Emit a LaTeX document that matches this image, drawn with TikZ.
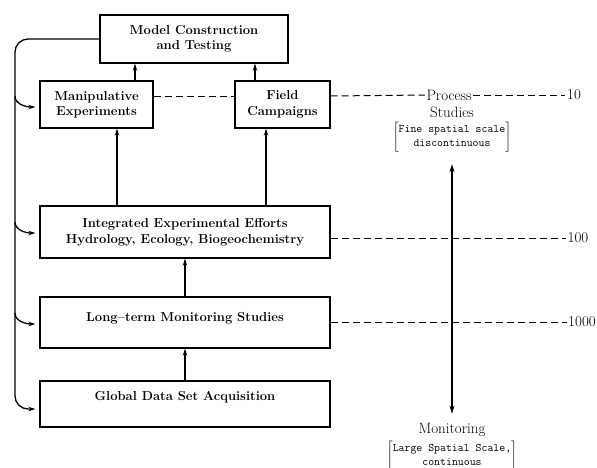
\documentclass[tikz,border=0pt]{standalone}
\usetikzlibrary{arrows.meta}
\begin{document}
\begin{tikzpicture}[x=1pt,y=-1pt,
  box/.style={draw, line width=1.3pt, inner sep=0pt, align=center,
    font=\fontsize{13}{15.5}\selectfont\bfseries},
  link/.style={line width=1.3pt, -{Stealth[length=7pt,width=4.5pt]}},
  feed/.style={line width=1.3pt, -{Stealth[length=7pt,width=4.5pt]}, shorten >=4pt},
  scaleline/.style={line width=1pt, dash pattern=on 7pt off 4pt},
  lbl/.style={inner sep=1.5pt, font=\fontsize{15}{18}\selectfont},
  brk/.style={inner sep=0pt, font=\fontsize{11.5}{14}\selectfont\ttfamily},
  axis/.style={line width=1.3pt, {Stealth[length=8pt,width=5pt]}-{Stealth[length=8pt,width=5pt]}}]
\useasboundingbox (0,0) rectangle (597,467);

% boxes of the hierarchy
\node[box, minimum width=188pt, minimum height=48pt] (model) at (194,39) {Model Construction\\and Testing};
\node[box, minimum width=113pt, minimum height=47pt] (manip) at (96.5,104.5) {Manipulative\\Experiments};
\node[box, minimum width=95pt, minimum height=47pt] (field) at (282.5,104.5) {Field\\Campaigns};
\node[box, minimum width=290pt, minimum height=52pt] (integ) at (185,232) {Integrated Experimental Efforts\\Hydrology, Ecology, Biogeochemistry};
\node[box, minimum width=290pt, minimum height=51pt, text depth=12pt] (long) at (185,322.5) {Long--term Monitoring Studies};
\node[box, minimum width=290pt, minimum height=46pt, text depth=17pt] (global) at (185,404) {Global Data Set Acquisition};

% scale labels on the right
\node[lbl] (procA) at (449,95) {Process};
\node[lbl] (procB) at (452,112) {Studies};
\node[brk] (fineB) at (452,137) {$\left[\begin{tabular}{@{}c@{}}\ttfamily Fine spatial scale\\ \ttfamily discontinuous\end{tabular}\right]$};
\node[lbl] (mon) at (452,430) {Monitoring};
\node[brk] (largeB) at (452,456) {$\left[\begin{tabular}{@{}c@{}}\ttfamily Large Spatial Scale,\\ \ttfamily continuous\end{tabular}\right]$};
\node[lbl] (n10) at (574,95) {10};
\node[lbl] (n100) at (578,238) {100};
\node[lbl] (n1000) at (582,322) {1000};

% upward links
\draw[link] (manip.north -| 135,0) -- (model.south -| 135,0);
\draw[link] (field.north -| 255,0) -- (model.south -| 255,0);
\draw[link] (integ.north -| 117,0) -- (manip.south -| 117,0);
\draw[link] (integ.north -| 266,0) -- (field.south -| 266,0);
\draw[link] (long.north) -- (integ.south);
\draw[link] (global.north) -- (long.south);

% feedback trunk on the left
\coordinate (trunkTop) at (15,39);
\coordinate (trunkBot) at (15,409);
\draw[feed, rounded corners=13pt] (model.west) -- (trunkTop) -- (trunkBot) -- (global.west |- 0,409);
\coordinate (bManip) at (15,96);
\coordinate (bInteg) at (15,222);
\coordinate (bLong) at (15,313);
\draw[feed] (bManip) .. controls +(0,8) and +(-14,0) .. (manip.west |- 0,107);
\draw[feed] (bInteg) .. controls +(0,8) and +(-14,0) .. (integ.west |- 0,233);
\draw[feed] (bLong) .. controls +(0,8) and +(-14,0) .. (long.west |- 0,324);

% dashed scale levels
\draw[scaleline] (manip.east |- 0,96) -- (field.west |- 0,96);
\draw[scaleline] (field.east |- 0,96) -- (procA.west);
\draw[scaleline] (procA.east) -- (n10.west);
\draw[scaleline] (integ.east |- 0,238) -- (n100.west);
\draw[scaleline] (long.east |- 0,322) -- (n1000.west);

% process / monitoring axis
\draw[axis, shorten <=12pt, shorten >=8pt] (fineB.south) -- (mon.north);
\end{tikzpicture}
\end{document}
